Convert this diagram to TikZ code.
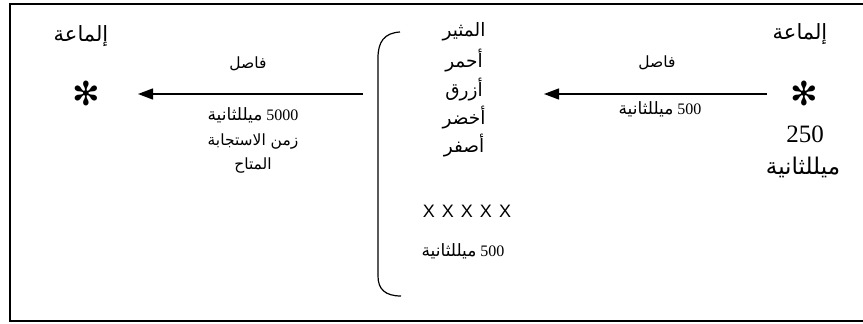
\documentclass[tikz,border=0pt]{standalone}
\usepackage{fontspec}
\setmainfont{Liberation Serif}
\newfontfamily\arabicfont[Script=Arabic]{DejaVu Sans}
\newfontfamily\symfont{DejaVu Sans}
\newfontfamily\xfont{Liberation Sans}
\TeXXeTstate=1
\usetikzlibrary{arrows.meta}
\newcommand{\artxt}[1]{\hbox{\arabicfont\beginR #1\endR}}
\newcommand{\xgap}{\kern7pt}
\tikzset{
  big/.style={font=\fontsize{21}{24}\selectfont, inner sep=0pt},
  small/.style={font=\fontsize{15.5}{18}\selectfont, inner sep=0pt},
  mixed/.style={font=\fontsize{17}{19}\selectfont, inner sep=0pt},
  mid/.style={font=\fontsize{18.5}{21}\selectfont, inner sep=0pt},
  starnode/.style={font=\symfont\fontsize{33}{35}\selectfont, inner sep=0pt},
  arr/.style={-{Triangle[length=15pt,width=11pt]}, line width=1.3pt},
  frame/.style={line width=1.6pt},
  brace/.style={line width=1.2pt}
}
\newcommand{\dg}[1]{\hbox{\fontsize{16}{18}\selectfont #1}}
\begin{document}
\begin{tikzpicture}[x=1pt,y=-1pt]
\useasboundingbox (0,0) rectangle (863,324);
\clip (0,0) rectangle (863,324);
\fill[white] (0,0) rectangle (863,324);
\draw[frame] (10,4) rectangle (880,321);

% left part
\node[big] (lt) at (81,36) {\artxt{إلماعة}};
\node[starnode] (ls) at (86,93) {✻};
\node[small] (lf) at (248,64) {\artxt{فاصل}};
\node[mixed] (l1) at (253,115) {\hbox{\artxt{ميللثانية}\kern4pt\dg{5000}}};
\node[small] (l2) at (253,142) {\artxt{زمن الاستجابة}};
\node[small] (l3) at (253,166) {\artxt{المتاح}};
\coordinate (la) at (363,94);
\coordinate (lb) at (138,94);
\draw[arr] (la) -- (lb);

% bracket
\draw[brace] (400,32) .. controls (384,33) and (378,42) .. (378,58)
  -- (378,276) .. controls (378,289) and (385,296) .. (401,296);

% middle column
\node[mid] (m0) at (464,32) {\artxt{المثير}};
\node[mid] (m1) at (464,61) {\artxt{أحمر}};
\node[mid] (m2) at (464,90) {\artxt{أزرق}};
\node[mid] (m3) at (464,118) {\artxt{أخضر}};
\node[mid] (m4) at (464,146) {\artxt{أصفر}};
\node[inner sep=0pt, font=\xfont\fontsize{18}{20}\selectfont] (mx) at (467,211) {X\xgap X\xgap X\xgap X\xgap X};
\node[mixed] (mt) at (463,251) {\hbox{\artxt{ميللثانية}\kern4pt\dg{500}}};

% right part
\node[big] (rt) at (800,34) {\artxt{إلماعة}};
\node[starnode] (rs) at (804,93) {✻};
\node[inner sep=0pt, font=\fontsize{25}{28}\selectfont] (rn) at (805,134) {250};
\node[inner sep=0pt, font=\fontsize{23}{26}\selectfont] (rm) at (803,167) {\artxt{ميللثانية}};
\node[small] (rf) at (657,63) {\artxt{فاصل}};
\node[mixed] (r1) at (660,109) {\hbox{\artxt{ميللثانية}\kern4pt\dg{500}}};
\coordinate (ra) at (767,94);
\coordinate (rb) at (544,94);
\draw[arr] (ra) -- (rb);
\end{tikzpicture}
\end{document}
